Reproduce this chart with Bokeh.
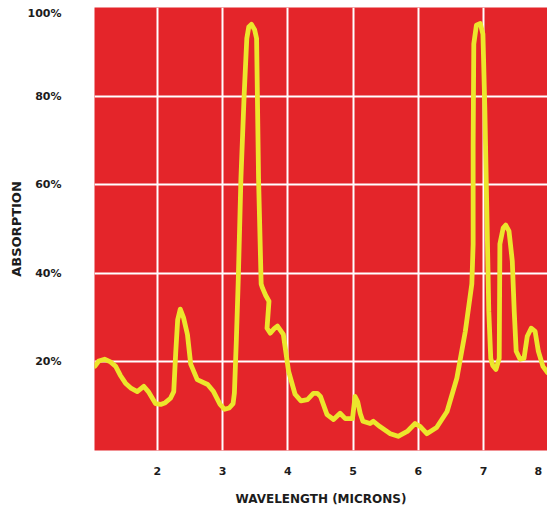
from bokeh.plotting import figure
from bokeh.models import FixedTicker
from bokeh.embed import file_html
from bokeh.resources import INLINE

# Absorption spectrum (wavelength in microns, absorption in %)
wavelength = [1.04, 1.10, 1.19, 1.28, 1.36, 1.43, 1.51, 1.60, 1.69, 1.79, 1.86, 1.97, 2.05, 2.12,
              2.20, 2.25, 2.28, 2.31, 2.35, 2.40, 2.46, 2.51, 2.61, 2.77, 2.86, 2.96, 3.03, 3.10,
              3.16, 3.18, 3.21, 3.24, 3.28, 3.33, 3.37, 3.40, 3.44, 3.49, 3.52, 3.55, 3.59, 3.61,
              3.66, 3.71, 3.68, 3.73, 3.79, 3.84, 3.93, 4.01, 4.11, 4.20, 4.30, 4.39, 4.45, 4.50,
              4.60, 4.70, 4.80, 4.88, 4.99, 5.03, 5.07, 5.11, 5.15, 5.26, 5.31, 5.41, 5.57, 5.69,
              5.83, 5.95, 6.03, 6.13, 6.28, 6.44, 6.59, 6.72, 6.82, 6.84, 6.84, 6.85, 6.89, 6.95,
              6.99, 7.02, 7.05, 7.08, 7.11, 7.14, 7.19, 7.24, 7.25, 7.30, 7.34, 7.39, 7.44, 7.47,
              7.50, 7.56, 7.62, 7.67, 7.73, 7.79, 7.84, 7.91, 7.98]
absorption = [19.0, 20.2, 20.6, 20.0, 19.0, 17.0, 15.2, 14.0, 13.3, 14.5, 13.3, 10.6, 10.4, 10.8,
              11.8, 13.3, 22.0, 29.5, 31.9, 30.0, 26.2, 19.5, 16.0, 14.9, 13.3, 10.4, 9.3, 9.6,
              10.6, 13.0, 25.0, 39.0, 61.5, 80.5, 93.0, 95.6, 96.2, 95.0, 93.0, 61.5, 37.6, 36.7,
              35.0, 33.7, 27.6, 26.5, 27.5, 28.1, 26.2, 17.9, 12.7, 11.2, 11.5, 12.9, 12.9, 12.2,
              8.1, 7.0, 8.4, 7.2, 7.2, 12.2, 11.0, 8.3, 6.6, 6.1, 6.6, 5.4, 3.8, 3.2,
              4.3, 6.1, 5.4, 3.8, 5.2, 8.8, 16.3, 26.9, 37.6, 46.6, 69.0, 91.8, 96.0, 96.4,
              94.0, 76.7, 54.0, 31.4, 20.8, 19.2, 18.3, 20.8, 46.6, 50.2, 50.9, 49.5, 42.8, 31.4,
              22.4, 20.6, 20.8, 25.8, 27.6, 26.9, 22.4, 19.0, 17.6]

# Axis ticks (positions of the printed labels) and their texts
x_grid_values = [2, 3, 4, 5, 6, 7]
x_tick_values = [2, 3, 4, 5, 6, 7, 7.84]
x_tick_labels = ["2", "3", "4", "5", "6", "7", "8"]
y_grid_values = [20, 40, 60, 80]
y_tick_values = [20, 40, 60, 80, 98.6]
y_tick_labels = ["20%", "40%", "60%", "80%", "100%"]

RED = "#e4252a"
YELLOW = "#ece62c"
INK = "#1c1c1c"
FONT = "DejaVu Sans"

p = figure(width=547, height=508, x_range=(1.035, 7.98), y_range=(0, 100),
           output_backend="svg", toolbar_location=None,
           background_fill_color=RED, border_fill_color="white",
           outline_line_color=None,
           min_border_top=7, min_border_right=0, min_border_left=94, min_border_bottom=58)

p.line(wavelength, absorption, line_color=YELLOW, line_width=4.8,
       line_join="round", line_cap="round")

for ax in (p.xaxis, p.yaxis):
    ax.axis_line_color = None
    ax.major_tick_line_color = None
    ax.minor_tick_line_color = None
    ax.major_label_text_font = FONT
    ax.major_label_text_font_style = "bold"
    ax.major_label_text_font_size = "11px"
    ax.major_label_text_color = INK
    ax.axis_label_text_font = FONT
    ax.axis_label_text_font_style = "bold"
    ax.axis_label_text_font_size = "12px"
    ax.axis_label_text_color = INK

p.xaxis.ticker = FixedTicker(ticks=x_tick_values)
p.xaxis.major_label_overrides = {v: t for v, t in zip(x_tick_values, x_tick_labels)}
p.xaxis.axis_label = "WAVELENGTH (MICRONS)"
p.xaxis.major_label_standoff = 10
p.xaxis.axis_label_standoff = 14

p.yaxis.ticker = FixedTicker(ticks=y_tick_values)
p.yaxis.major_label_overrides = {v: t for v, t in zip(y_tick_values, y_tick_labels)}
p.yaxis.axis_label = "ABSORPTION"
p.yaxis.axis_label_text_font_size = "13px"
p.yaxis.major_label_standoff = 27
p.yaxis.axis_label_standoff = 1

p.xgrid.ticker = FixedTicker(ticks=x_grid_values)
p.ygrid.ticker = FixedTicker(ticks=y_grid_values)
for g in (p.xgrid, p.ygrid):
    g.grid_line_color = "white"
    g.grid_line_width = 2
    g.grid_line_alpha = 1.0

open("out.html", "w").write(file_html(p, INLINE))
